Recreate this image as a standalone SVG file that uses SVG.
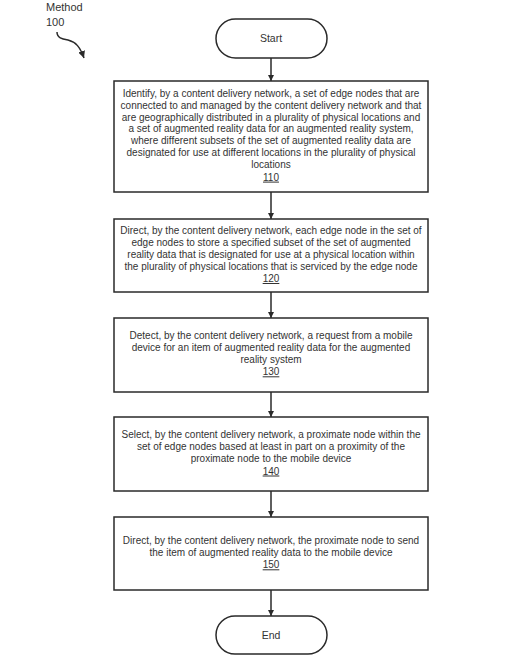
<svg xmlns="http://www.w3.org/2000/svg" width="530" height="669" viewBox="0 0 530 669">
<defs>
<style>
.box{fill:#fff;stroke:#2a2a2a;stroke-width:1.5}
.t{font-family:"Liberation Sans",Arial,sans-serif;font-size:10px;fill:#333;text-anchor:middle}
.lbl{font-family:"Liberation Sans",Arial,sans-serif;font-size:11px;fill:#333}
.u{text-decoration:underline}
.c{fill:none;stroke:#2a2a2a;stroke-width:1.5}
</style>
<marker id="ah" viewBox="0 0 10 10" refX="10" refY="5" markerWidth="6" markerHeight="6" markerUnits="userSpaceOnUse" orient="auto">
<path d="M0,0 L10,5 L0,10 Z" fill="#2a2a2a"/>
</marker>
<marker id="ah2" viewBox="0 0 10 10" refX="10" refY="5" markerWidth="7" markerHeight="7" markerUnits="userSpaceOnUse" orient="auto">
<path d="M0,0 L10,5 L0,10 Z" fill="#2a2a2a"/>
</marker>
</defs>
<rect width="530" height="669" fill="#fff"/>

<g id="method-label">
<text class="lbl" x="46" y="11">Method</text>
<text class="lbl" x="46" y="26">100</text>
<path class="c" d="M57,32 C57,38 62,39 68,40 C76,42 80,47 84,58" marker-end="url(#ah2)"/>
</g>

<g id="connectors">
<line class="c" x1="271" y1="58" x2="271" y2="81" marker-end="url(#ah)"/>
<line class="c" x1="271" y1="192" x2="271" y2="219" marker-end="url(#ah)"/>
<line class="c" x1="271" y1="292" x2="271" y2="318" marker-end="url(#ah)"/>
<line class="c" x1="271" y1="392" x2="271" y2="417" marker-end="url(#ah)"/>
<line class="c" x1="271" y1="491" x2="271" y2="517" marker-end="url(#ah)"/>
<line class="c" x1="271" y1="590" x2="271" y2="616" marker-end="url(#ah)"/>
</g>

<g id="start">
<rect class="box" x="216" y="19" width="111" height="39" rx="19.5" ry="19.5"/>
<text class="t" x="271" y="42" style="font-size:10.5px">Start</text>
</g>

<g id="step110">
<rect class="box" x="114" y="81" width="314" height="111"/>
<text class="t" x="271" y="97">Identify, by a content delivery network, a set of edge nodes that are</text>
<text class="t" x="271" y="108.8">connected to and managed by the content delivery network and that</text>
<text class="t" x="271" y="120.6">are geographically distributed in a plurality of physical locations and</text>
<text class="t" x="271" y="132.4">a set of augmented reality data for an augmented reality system,</text>
<text class="t" x="271" y="144.2">where different subsets of the set of augmented reality data are</text>
<text class="t" x="271" y="156">designated for use at different locations in the plurality of physical</text>
<text class="t" x="271" y="167.8">locations</text>
<text class="t u" x="271" y="180.6">110</text>
</g>

<g id="step120">
<rect class="box" x="114" y="219" width="314" height="73"/>
<text class="t" x="271" y="234">Direct, by the content delivery network, each edge node in the set of</text>
<text class="t" x="271" y="246">edge nodes to store a specified subset of the set of augmented</text>
<text class="t" x="271" y="258">reality data that is designated for use at a physical location within</text>
<text class="t" x="271" y="270">the plurality of physical locations that is serviced by the edge node</text>
<text class="t u" x="271" y="282">120</text>
</g>

<g id="step130">
<rect class="box" x="114" y="318" width="314" height="74"/>
<text class="t" x="271" y="339.3">Detect, by the content delivery network, a request from a mobile</text>
<text class="t" x="271" y="351.3">device for an item of augmented reality data for the augmented</text>
<text class="t" x="271" y="363.3">reality system</text>
<text class="t u" x="271" y="375.3">130</text>
</g>

<g id="step140">
<rect class="box" x="114" y="417" width="314" height="74"/>
<text class="t" x="271" y="438.3">Select, by the content delivery network, a proximate node within the</text>
<text class="t" x="271" y="450.3">set of edge nodes based at least in part on a proximity of the</text>
<text class="t" x="271" y="462.3">proximate node to the mobile device</text>
<text class="t u" x="271" y="474.5">140</text>
</g>

<g id="step150">
<rect class="box" x="114" y="517" width="314" height="73"/>
<text class="t" x="271" y="544">Direct, by the content delivery network, the proximate node to send</text>
<text class="t" x="271" y="556">the item of augmented reality data to the mobile device</text>
<text class="t u" x="271" y="568.3">150</text>
</g>

<g id="end">
<rect class="box" x="216" y="616" width="111" height="38" rx="19" ry="19"/>
<text class="t" x="271" y="638.5" style="font-size:10.5px">End</text>
</g>
</svg>
